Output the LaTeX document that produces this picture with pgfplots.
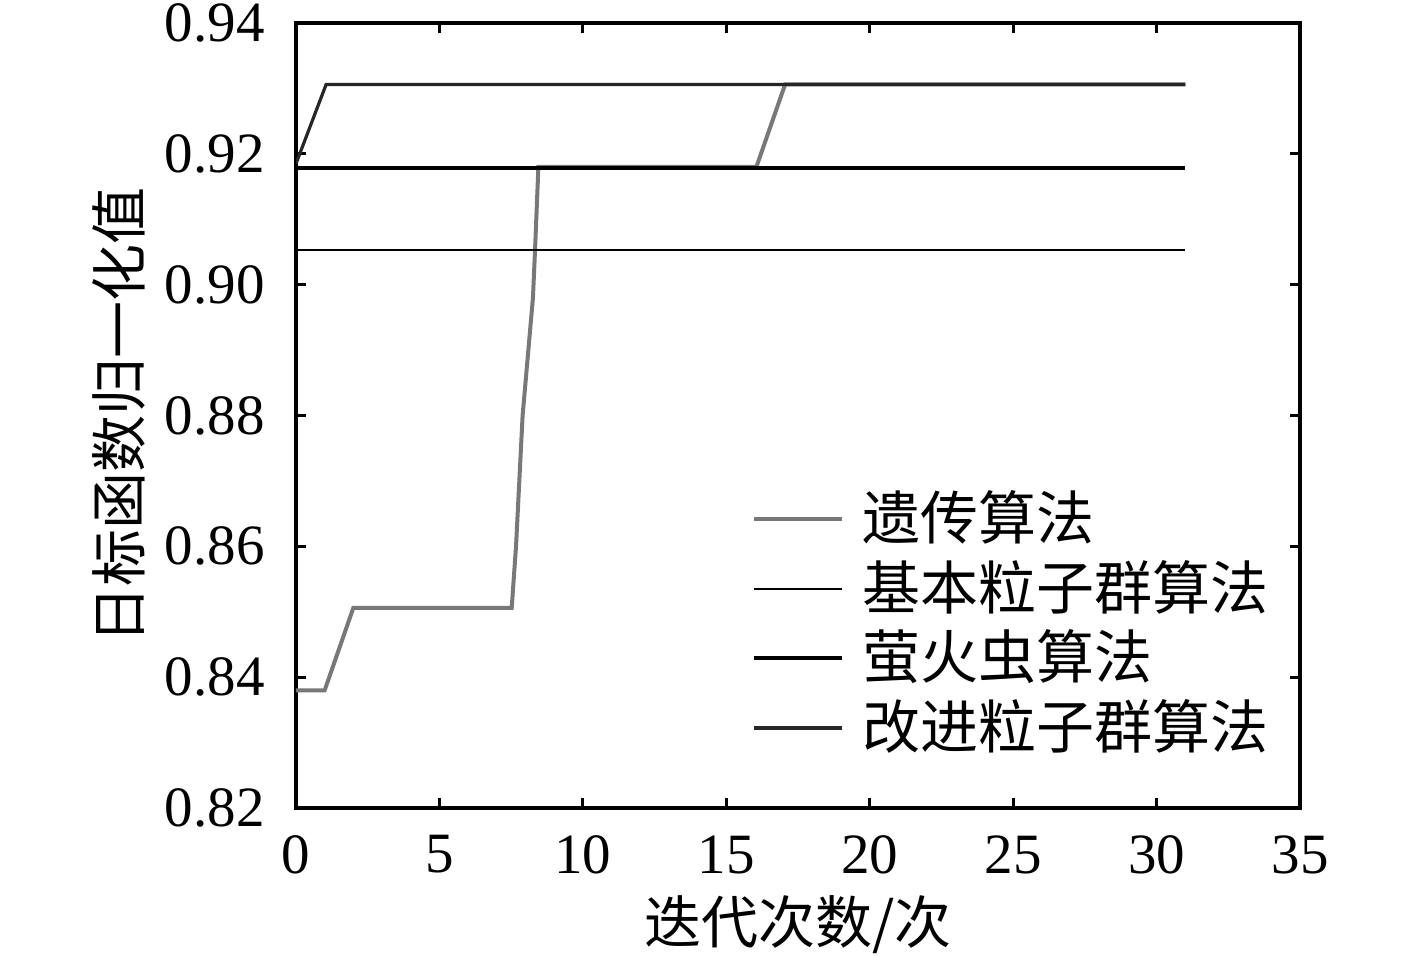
\documentclass[border=0pt]{standalone}
\usepackage{fontspec}
\setmainfont{Liberation Serif}
\newfontfamily\cjk{Noto Sans CJK SC}
\usepackage{pgfplots}
\pgfplotsset{compat=1.18}
\definecolor{gagray}{RGB}{120,120,120}
\begin{document}
\fontsize{28.5}{34}\selectfont
\begin{tikzpicture}
\useasboundingbox (-148pt,-74.5pt) rectangle (560.5pt,404pt);
\begin{axis}[
  at={(0,0)}, anchor=south west,
  scale only axis, width=502pt, height=392.5pt,
  xmin=0, xmax=35, ymin=0.82, ymax=0.94,
  xtick={0,5,...,35}, ytick={0.82,0.84,...,0.941},
  tick align=inside, major tick length=5pt,
  axis line style={line width=1.8pt},
  every tick/.style={black, line width=1.6pt},
  /pgf/number format/assume math mode=true,
  yticklabel style={/pgf/number format/fixed, /pgf/number format/precision=2, /pgf/number format/fixed zerofill, inner sep=0pt, xshift=-15.5pt},
  xticklabel style={inner sep=0pt, yshift=-13.5pt},
  ticklabel style={font=\fontsize{28.5}{34}\selectfont},
  xlabel={\cjk 迭代次数/次},
  ylabel={\cjk 日标函数归一化值},
  xlabel style={at={(axis description cs:0.5,-0.149)}, anchor=center, font=\fontsize{28.5}{34}\selectfont},
  ylabel style={at={(axis description cs:-0.176,0.5)}, anchor=center, font=\fontsize{28.5}{34}\selectfont},
  legend style={at={(0.454,0.41)}, anchor=north west, draw=none, fill=none, inner sep=0pt,
    font=\fontsize{29}{34}\selectfont\cjk, row sep=2pt,
    nodes={inner sep=2pt},
    /tikz/every odd column/.style={column sep=7pt}},
  legend cell align=left,
  legend image code/.code={\draw[#1] (0pt,0pt) -- (44pt,0pt);},
]
\addplot[gagray, line width=2pt] coordinates {
(0,0.838) (1.0,0.838) (2.0,0.8506) (7.52,0.8506) (7.67,0.86) (7.9,0.88) (8.26,0.898) (8.33,0.905) (8.45,0.918) (16.05,0.918) (17.05,0.9306) (31,0.9306)};
\addlegendentry{遗传算法}
\addplot[black, line width=1.2pt] coordinates {(0,0.9053) (31,0.9053)};
\addlegendentry{基本粒子群算法}
\addplot[black, line width=2pt] coordinates {(0,0.9178) (31,0.9178)};
\addlegendentry{萤火虫算法}
\addplot[black!85, line width=1.6pt] coordinates {(0,0.9185) (1.05,0.9306) (31,0.9306)};
\addlegendentry{改进粒子群算法}
\end{axis}
\end{tikzpicture}
\end{document}
